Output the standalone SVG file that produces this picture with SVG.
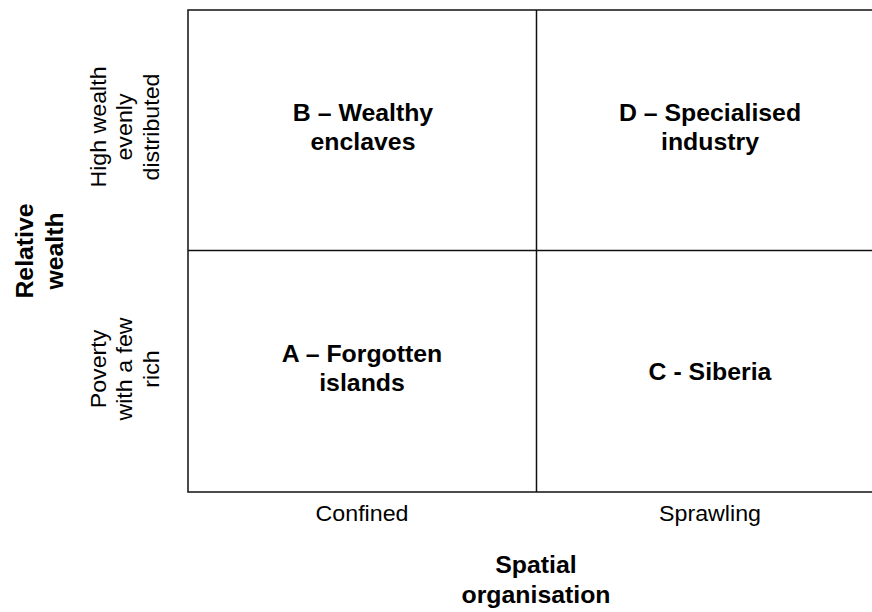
<svg xmlns="http://www.w3.org/2000/svg" width="872" height="612" viewBox="0 0 872 612">
  <style>
    .grid { fill: none; stroke: #111; stroke-width: 1.5; }
    text { font-family: "Liberation Sans", Arial, sans-serif; fill: #000; text-anchor: middle; }
    .cell { font-size: 23px; font-weight: bold; }
    .axis { font-size: 23px; font-weight: bold; }
    .tick { font-size: 21.5px; }
  </style>

  <!-- 2x2 matrix -->
  <g id="matrix">
    <rect class="grid" x="188" y="10" width="700" height="482"/>
    <line class="grid" x1="536.5" y1="10" x2="536.5" y2="492"/>
    <line class="grid" x1="188" y1="250.5" x2="888" y2="250.5"/>
  </g>

  <!-- quadrant labels -->
  <g id="quadrant-b">
    <text class="cell" transform="translate(363,121) scale(1.08,1)"><tspan x="0" y="0">B – Wealthy</tspan><tspan x="0" dy="29">enclaves</tspan></text>
  </g>
  <g id="quadrant-d">
    <text class="cell" transform="translate(710,121) scale(1.08,1)"><tspan x="0" y="0">D – Specialised</tspan><tspan x="0" dy="29">industry</tspan></text>
  </g>
  <g id="quadrant-a">
    <text class="cell" transform="translate(362,362) scale(1.08,1)"><tspan x="0" y="0">A – Forgotten</tspan><tspan x="0" dy="29">islands</tspan></text>
  </g>
  <g id="quadrant-c">
    <text class="cell" transform="translate(710,380) scale(1.08,1)">C - Siberia</text>
  </g>

  <!-- horizontal axis -->
  <g id="x-ticks">
    <text class="tick" transform="translate(362,521) scale(1.08,1)">Confined</text>
    <text class="tick" transform="translate(710,521) scale(1.08,1)">Sprawling</text>
  </g>
  <g id="x-title">
    <text class="axis" transform="translate(536,573) scale(1.08,1)"><tspan x="0" y="0">Spatial</tspan><tspan x="0" dy="30">organisation</tspan></text>
  </g>

  <!-- vertical axis -->
  <g id="y-ticks">
    <text class="tick" transform="translate(106,127) rotate(-90) scale(1.08,1)"><tspan x="0" y="0">High wealth</tspan><tspan x="0" dy="26.5">evenly</tspan><tspan x="0" dy="26.5">distributed</tspan></text>
    <text class="tick" transform="translate(106,369) rotate(-90) scale(1.08,1)"><tspan x="0" y="0">Poverty</tspan><tspan x="0" dy="26.5">with a few</tspan><tspan x="0" dy="26.5">rich</tspan></text>
  </g>
  <g id="y-title">
    <text class="axis" transform="translate(33,251) rotate(-90) scale(1.08,1)"><tspan x="0" y="0">Relative</tspan><tspan x="0" dy="30">wealth</tspan></text>
  </g>
</svg>
